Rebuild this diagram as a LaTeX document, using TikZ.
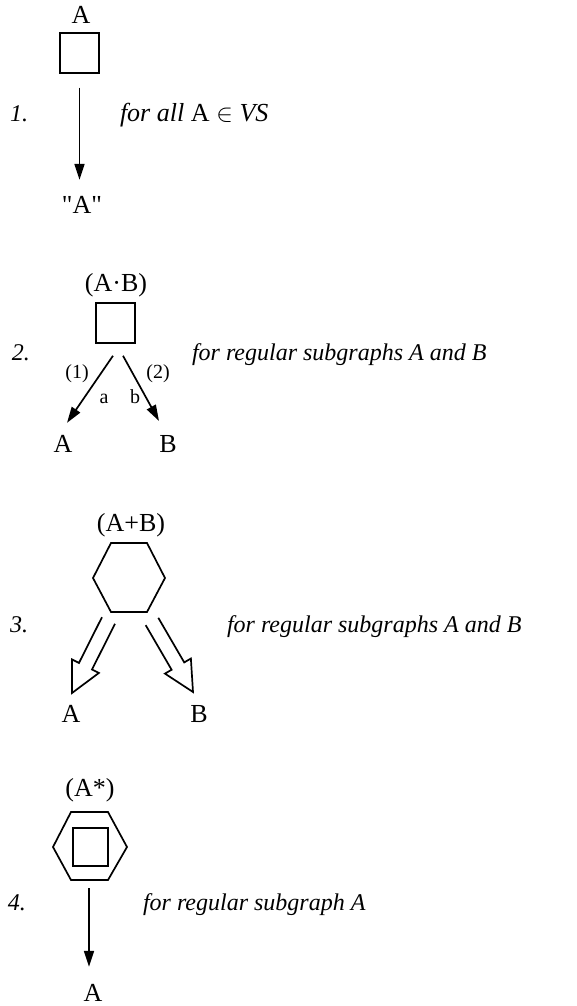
\documentclass[tikz,border=0pt]{standalone}
\usepackage{fontspec}
\setmainfont{Liberation Serif}
\newfontfamily\qfont{Liberation Serif}[Ligatures=TeXOff]
\usetikzlibrary{arrows.meta,calc}
\begin{document}
\begin{tikzpicture}[x=1pt,y=-1pt,
  every node/.style={inner sep=0pt,outer sep=0pt},
  lbl/.style={font=\fontsize{26}{30}\selectfont, anchor=base},
  small/.style={font=\fontsize{20}{24}\selectfont},
  desc/.style={font=\fontsize{24}{28}\selectfont\itshape, anchor=base west},
  descbig/.style={font=\fontsize{26}{30}\selectfont\itshape, anchor=base west},
  num/.style={font=\fontsize{24}{28}\selectfont\itshape, anchor=base west},
  sq/.style={draw, line width=1.7pt, minimum width=39.5pt, minimum height=39.5pt},
  arr/.style={line width=1.7pt, -{Triangle[length=16pt,width=10pt]}},
  shapeline/.style={line width=1.7pt, line join=miter},
]
\useasboundingbox (0,0) rectangle (576,1006);

% ---------- 1 ----------
\node[sq] (box1) at (79.5,53) {};
\node[lbl] (l1) at (81,24) {A};
\node[lbl] (q1) at (82,213) {\qfont "A"};
\draw[arr] ([yshift=-15pt]box1.south) -- ([yshift=16pt]box1.south |- q1.north);
\node[num] (n1) at (10,122) {1.};
\node[descbig] (d1) at (120,122) {for all {\upshape$\mathrm{A}\in$} VS};

% ---------- 2 ----------
\node[sq] (box2) at (115.5,323) {};
\node[lbl] (l2) at (116,291) {(A·B)};
\node[lbl] (A2) at (63,452) {A};
\node[lbl] (B2) at (168,452) {B};
\draw[arr] ([xshift=-2.5pt,yshift=-13pt]box2.south) -- ([xshift=4pt,yshift=12pt]A2.north);
\draw[arr] ([xshift=7.5pt,yshift=-13pt]box2.south) -- ([xshift=-9pt,yshift=14pt]B2.north);
\node[small] (e1) at (77,374) {(1)};
\node[small] (e2) at (158,374) {(2)};
\node[small, anchor=base] (ea) at (104,403) {a};
\node[small, anchor=base] (eb) at (135,403) {b};
\node[num] (n2) at (12,360) {2.};
\node[desc] (d2) at (192,360) {for regular subgraphs A and B};

% ---------- 3 ----------
\draw[shapeline] (111,543) -- (147,543) -- (165,578) -- (147,612) -- (111,612) -- (93,578) -- cycle;
\coordinate (hex3) at (129,577.5);
\node[lbl] (l3) at (131,531) {(A+B)};
\node[lbl] (A3) at (71,722) {A};
\node[lbl] (B3) at (199,722) {B};
\coordinate (S1) at (108.5,620.5);
\coordinate (T1) at (72,693);
\coordinate (H1) at ($(T1)!30pt!(S1)$);
\draw[shapeline] ($(S1)!7.3pt!90:(T1)$) -- ($(H1)!7.3pt!90:(T1)$) -- ($(H1)!15pt!90:(T1)$) -- (T1)
  -- ($(H1)!15pt!-90:(T1)$) -- ($(H1)!7.3pt!-90:(T1)$) -- ($(S1)!7.3pt!-90:(T1)$);
\coordinate (S2) at (152,621.5);
\coordinate (T2) at (193,692);
\coordinate (H2) at ($(T2)!30pt!(S2)$);
\draw[shapeline] ($(S2)!7.3pt!90:(T2)$) -- ($(H2)!7.3pt!90:(T2)$) -- ($(H2)!15pt!90:(T2)$) -- (T2)
  -- ($(H2)!15pt!-90:(T2)$) -- ($(H2)!7.3pt!-90:(T2)$) -- ($(S2)!7.3pt!-90:(T2)$);
\node[num] (n3) at (10,632) {3.};
\node[desc] (d3) at (227,632) {for regular subgraphs A and B};

% ---------- 4 ----------
\draw[shapeline] (71,812) -- (108,812) -- (127,847) -- (108,880) -- (71,880) -- (53,847) -- cycle;
\coordinate (hex4) at (90,880);
\node[draw, line width=1.7pt, minimum width=35.5pt, minimum height=38.5pt] (box4) at (90.5,847) {};
\node[lbl] (l4) at (90,796) {(A*)};
\node[lbl] (A4) at (93,1001) {A};
\draw[arr] ([xshift=-1pt,yshift=-8pt]hex4) -- ([xshift=-4pt,yshift=17pt]A4.north);
\node[num] (n4) at (8,910) {4.};
\node[desc] (d4) at (143,910) {for regular subgraph A};
\end{tikzpicture}
\end{document}
